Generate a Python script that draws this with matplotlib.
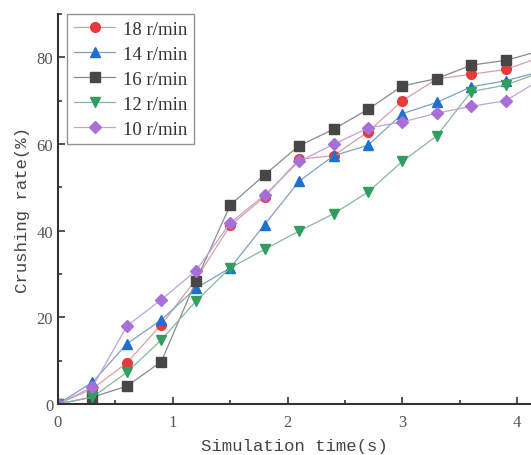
import matplotlib
matplotlib.use("Agg")
import matplotlib.pyplot as plt
from matplotlib.ticker import MultipleLocator

time_s = [0, 0.3, 0.6, 0.9, 1.2, 1.5, 1.8, 2.1, 2.4, 2.7, 3.0, 3.3, 3.6, 3.9, 4.2]
rate_18 = [0, 3.5, 9.5, 18.3, 28.7, 41.2, 47.8, 56.5, 57.3, 62.8, 70.0, 75.0, 76.1, 77.2, 80.0]
rate_14 = [0, 5.0, 13.9, 19.4, 26.7, 31.4, 41.4, 51.4, 57.3, 59.7, 67.0, 69.6, 73.2, 74.6, 76.7]
rate_16 = [0, 1.6, 4.1, 9.8, 28.3, 45.9, 52.9, 59.6, 63.4, 68.0, 73.4, 75.1, 78.2, 79.3, 81.5]
rate_12 = [0, 1.6, 7.3, 14.8, 23.7, 31.4, 35.7, 39.9, 43.9, 48.9, 56.0, 61.9, 72.1, 73.6, 76.5]
rate_10 = [0, 3.9, 18.0, 24.1, 30.7, 41.8, 48.2, 56.0, 59.9, 63.7, 65.1, 67.1, 68.7, 70.0, 74.8]

labels = ["18 r/min", "14 r/min", "16 r/min", "12 r/min", "10 r/min"]

fig = plt.figure(figsize=(5.31, 4.56), dpi=100)
ax = fig.add_axes([58 / 531, 51 / 456, 1 - 58 / 531, (405 - 15) / 456])

series = [
    (rate_18, "#e53b3b", "o", "#d9a0a0"),
    (rate_14, "#1f6fd1", "^", "#7f9fc8"),
    (rate_16, "#474747", "s", "#8a8a8a"),
    (rate_12, "#2f9e5e", "v", "#86b99a"),
    (rate_10, "#a86fd9", "D", "#c1a3d6"),
]
for (vals, mc, mk, lc), lab in zip(series, labels):
    ms = 7 if mk != "D" else 6
    ax.plot(time_s, vals, color=lc, lw=0.9, marker=mk, markersize=ms,
            markerfacecolor=mc, markeredgecolor=mc, label=lab, clip_on=True)

ax.set_xlim(0, 4.12)
ax.set_ylim(0, 90)
ax.xaxis.set_major_locator(MultipleLocator(1))
ax.xaxis.set_minor_locator(MultipleLocator(0.5))
ax.yaxis.set_major_locator(MultipleLocator(20))
ax.yaxis.set_minor_locator(MultipleLocator(10))
ax.tick_params(which="both", direction="in", colors="#333333", width=1.2)
ax.tick_params(which="major", length=5, labelsize=12, labelcolor="#555555")
ax.tick_params(axis="x", which="major", pad=7)
ax.tick_params(which="minor", length=3)
for lab in ax.get_xticklabels() + ax.get_yticklabels():
    lab.set_family("Liberation Serif")

for s in ["top", "right"]:
    ax.spines[s].set_visible(False)
for s in ["left", "bottom"]:
    ax.spines[s].set_linewidth(1.5)
    ax.spines[s].set_color("#333333")

ax.set_xlabel("Simulation time(s)", family="Liberation Mono", fontsize=12.5, color="#444444", labelpad=6)
ax.set_ylabel("Crushing rate(%)", family="Liberation Mono", fontsize=12.5, color="#444444", labelpad=5)

leg = ax.legend(loc="upper left", bbox_to_anchor=(0.02, 1.0), prop={"family": "Liberation Serif", "size": 13.5},
                frameon=True, fancybox=False, edgecolor="#777777", handlelength=2.2,
                handletextpad=0.4, borderpad=0.35, labelspacing=0.42, borderaxespad=0.0)
leg.get_frame().set_linewidth(1.0)
for t in leg.get_texts():
    t.set_color("#333333")

fig.savefig("out.png", dpi=100)
